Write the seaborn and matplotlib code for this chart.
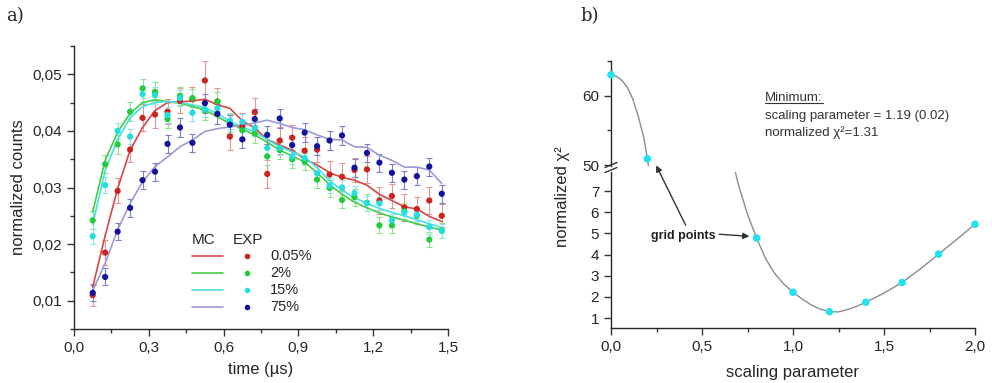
import matplotlib
matplotlib.use("Agg")
import matplotlib.pyplot as plt
import seaborn as sns
from matplotlib.lines import Line2D
from matplotlib.ticker import MultipleLocator, FuncFormatter, FixedLocator
from matplotlib.transforms import IdentityTransform

# ---------------- data: panel a ----------------
time_us = [0.075, 0.125, 0.175, 0.225, 0.275, 0.325, 0.375, 0.425, 0.475, 0.525,
           0.575, 0.625, 0.675, 0.725, 0.775, 0.825, 0.875, 0.925, 0.975, 1.025,
           1.075, 1.125, 1.175, 1.225, 1.275, 1.325, 1.375, 1.425, 1.475]

exp_005 = [0.0110, 0.0185, 0.0294, 0.0367, 0.0423, 0.0429, 0.0434, 0.0453, 0.0456, 0.0489,
           0.0452, 0.0390, 0.0408, 0.0433, 0.0324, 0.0383, 0.0388, 0.0365, 0.0367, 0.0323,
           0.0319, 0.0331, 0.0332, 0.0277, 0.0285, 0.0265, 0.0262, 0.0277, 0.0250]
err_005 = [0.0020, 0.0022, 0.0022, 0.0022, 0.0024, 0.0024, 0.0022, 0.0022, 0.0022, 0.0034,
           0.0024, 0.0024, 0.0024, 0.0026, 0.0024, 0.0024, 0.0022, 0.0024, 0.0022, 0.0024,
           0.0024, 0.0022, 0.0024, 0.0024, 0.0022, 0.0024, 0.0022, 0.0024, 0.0020]
exp_2 = [0.0242, 0.0341, 0.0376, 0.0434, 0.0475, 0.0469, 0.0421, 0.0462, 0.0458, 0.0436,
         0.0452, 0.0414, 0.0401, 0.0395, 0.0355, 0.0366, 0.0350, 0.0346, 0.0314, 0.0299,
         0.0278, 0.0283, 0.0273, 0.0233, 0.0233, 0.0258, 0.0250, 0.0208, 0.0224]
err_2 = [0.0016, 0.0016, 0.0016, 0.0017, 0.0017, 0.0017, 0.0016, 0.0016, 0.0016, 0.0016,
         0.0016, 0.0016, 0.0016, 0.0016, 0.0015, 0.0015, 0.0015, 0.0015, 0.0015, 0.0015,
         0.0015, 0.0015, 0.0015, 0.0014, 0.0014, 0.0014, 0.0014, 0.0014, 0.0014]
exp_15 = [0.0214, 0.0304, 0.0400, 0.0390, 0.0465, 0.0463, 0.0428, 0.0458, 0.0432, 0.0438,
          0.0440, 0.0418, 0.0416, 0.0405, 0.0370, 0.0370, 0.0355, 0.0352, 0.0325, 0.0303,
          0.0300, 0.0290, 0.0272, 0.0272, 0.0242, 0.0256, 0.0252, 0.0230, 0.0223]
err_15 = [0.0013, 0.0014, 0.0014, 0.0014, 0.0015, 0.0015, 0.0014, 0.0014, 0.0014, 0.0014,
          0.0014, 0.0014, 0.0014, 0.0014, 0.0013, 0.0013, 0.0013, 0.0013, 0.0013, 0.0013,
          0.0013, 0.0013, 0.0013, 0.0012, 0.0012, 0.0012, 0.0012, 0.0012, 0.0012]
exp_75 = [0.0114, 0.0142, 0.0222, 0.0264, 0.0313, 0.0328, 0.0377, 0.0406, 0.0379, 0.0449,
          0.0430, 0.0411, 0.0385, 0.0421, 0.0393, 0.0422, 0.0375, 0.0397, 0.0373, 0.0383,
          0.0392, 0.0335, 0.0361, 0.0344, 0.0326, 0.0314, 0.0320, 0.0337, 0.0289]
err_75 = [0.0014, 0.0015, 0.0015, 0.0016, 0.0016, 0.0016, 0.0016, 0.0016, 0.0016, 0.0017,
          0.0017, 0.0017, 0.0016, 0.0017, 0.0016, 0.0017, 0.0016, 0.0017, 0.0016, 0.0016,
          0.0017, 0.0016, 0.0016, 0.0016, 0.0016, 0.0016, 0.0016, 0.0016, 0.0016]

mc_005 = [0.0124, 0.0215, 0.0298, 0.0366, 0.0406, 0.0436, 0.0450, 0.0451, 0.0453, 0.0456,
          0.0446, 0.0440, 0.0418, 0.0405, 0.0385, 0.0375, 0.0366, 0.0350, 0.0340, 0.0326,
          0.0318, 0.0313, 0.0304, 0.0288, 0.0277, 0.0266, 0.0262, 0.0249, 0.0240]
mc_2 = [0.0257, 0.0348, 0.0398, 0.0431, 0.0450, 0.0455, 0.0452, 0.0449, 0.0443, 0.0437,
        0.0425, 0.0413, 0.0403, 0.0393, 0.0380, 0.0366, 0.0356, 0.0345, 0.0326, 0.0305,
        0.0288, 0.0274, 0.0264, 0.0255, 0.0248, 0.0242, 0.0236, 0.0230, 0.0225]
mc_15 = [0.0235, 0.0330, 0.0385, 0.0423, 0.0443, 0.0450, 0.0452, 0.0450, 0.0446, 0.0441,
         0.0430, 0.0417, 0.0407, 0.0398, 0.0385, 0.0372, 0.0363, 0.0354, 0.0335, 0.0312,
         0.0295, 0.0282, 0.0272, 0.0263, 0.0256, 0.0250, 0.0243, 0.0236, 0.0229]
mc_75 = [0.0118, 0.0166, 0.0225, 0.0272, 0.0310, 0.0337, 0.0354, 0.0372, 0.0384, 0.0399,
         0.0404, 0.0407, 0.0410, 0.0414, 0.0419, 0.0413, 0.0406, 0.0402, 0.0393, 0.0385,
         0.0384, 0.0372, 0.0371, 0.0357, 0.0348, 0.0336, 0.0336, 0.0331, 0.0307]

series_labels = ["0.05%", "2%", "15%", "75%"]

# ---------------- data: panel b ----------------
grid_param = [0.0, 0.2, 0.8, 1.0, 1.2, 1.4, 1.6, 1.8, 2.0]
grid_chi2 = [63.0, 50.9, 4.78, 2.22, 1.30, 1.75, 2.68, 4.02, 5.43]

curve_param = [0.0, 0.03, 0.06, 0.09, 0.12, 0.15, 0.18, 0.20, 0.22,
               0.68, 0.70, 0.75, 0.80, 0.85, 0.90, 0.95, 1.00, 1.05, 1.10, 1.15, 1.20,
               1.25, 1.30, 1.35, 1.40, 1.50, 1.60, 1.70, 1.80, 1.90, 2.00]
curve_chi2 = [63.0, 62.8, 62.2, 61.2, 59.5, 57.0, 54.0, 50.9, 47.5,
              8.0, 7.3, 5.9, 4.78, 3.8, 3.1, 2.6, 2.22, 1.9, 1.62, 1.42, 1.30,
              1.29, 1.40, 1.55, 1.75, 2.18, 2.68, 3.32, 4.02, 4.72, 5.43]

# ---------------- style ----------------
sns.set_theme(style="ticks")
plt.rcParams["font.family"] = ["Liberation Sans", "DejaVu Sans"]
plt.rcParams["axes.linewidth"] = 1.0
plt.rcParams["xtick.direction"] = "out"
plt.rcParams["ytick.direction"] = "out"

marker_cols = ["#cc2222", "#22cc3a", "#22dede", "#12129a"]
line_cols = ["#d94545", "#44cc44", "#44e2e2", "#9a9ad8"]
err_cols = ["#e89494", "#8fe08f", "#90e6e6", "#7d7dc8"]

fig = plt.figure(figsize=(9.92, 3.83), dpi=100)
W, H = 992.0, 383.0

def fx(px):
    return px / W

def fy(py):
    return (H - py) / H

# ---------------- panel a ----------------
ax = fig.add_axes([fx(74), fy(329), (448 - 74) / W, (329 - 46) / H])
exps = [exp_005, exp_2, exp_15, exp_75]
errs = [err_005, err_2, err_15, err_75]
mcs = [mc_005, mc_2, mc_15, mc_75]
for i in range(4):
    ax.errorbar(time_us, exps[i], yerr=errs[i], fmt="none", ecolor=err_cols[i],
                elinewidth=0.8, capsize=2.5, capthick=0.8, zorder=2)
for i in range(4):
    sns.lineplot(x=time_us, y=mcs[i], ax=ax, color=line_cols[i], lw=1.2,
                 estimator=None, sort=False, zorder=3)
for i in range(4):
    sns.scatterplot(x=time_us, y=exps[i], ax=ax, color=marker_cols[i], s=20,
                    edgecolor="none", zorder=4)

ax.set_xlim(0, 1.5)
ax.set_ylim(0.005, 0.055)
ax.xaxis.set_major_locator(MultipleLocator(0.3))
ax.xaxis.set_minor_locator(MultipleLocator(0.15))
ax.yaxis.set_major_locator(FixedLocator([0.01, 0.02, 0.03, 0.04, 0.05]))
ax.yaxis.set_minor_locator(MultipleLocator(0.005))
ax.xaxis.set_major_formatter(FuncFormatter(lambda v, p: f"{v:.1f}".replace(".", ",")))
ax.yaxis.set_major_formatter(FuncFormatter(lambda v, p: f"{v:.2f}".replace(".", ",")))
ax.tick_params(which="major", length=5, width=1, labelsize=11, color="#333333")
ax.tick_params(which="minor", length=3, width=1, color="#333333")
sns.despine(ax=ax)
ax.set_xlabel("time (µs)", fontsize=12, labelpad=5)
ax.set_ylabel("normalized counts", fontsize=12, labelpad=5)

# legend (MC lines, EXP dots)
tA = ax.transAxes
ax.text(0.316, 0.314, "MC", transform=tA, fontsize=11, va="center", ha="left")
ax.text(0.425, 0.314, "EXP", transform=tA, fontsize=11, va="center", ha="left")
rows = [0.258, 0.197, 0.138, 0.077]
for i in range(4):
    ax.add_line(Line2D([0.316, 0.398], [rows[i], rows[i]], transform=tA,
                       color=line_cols[i], lw=1.2))
    ax.plot([0.4626], [rows[i]], "o", transform=tA, color=marker_cols[i], ms=4,
            mec="none")
    ax.text(0.524, rows[i], series_labels[i], transform=tA, fontsize=10.5,
            va="center", ha="left")

# ---------------- panel b ----------------
ax_low = fig.add_axes([fx(611), fy(328), (975 - 611) / W, (328 - 172) / H])
ax_up = fig.add_axes([fx(611), fy(166), (975 - 611) / W, (166 - 61) / H])

for a in (ax_low, ax_up):
    sns.lineplot(x=curve_param[:9], y=curve_chi2[:9], ax=a, color="#8c8c8c", lw=1.0,
                 estimator=None, sort=False)
    sns.lineplot(x=curve_param[9:], y=curve_chi2[9:], ax=a, color="#8c8c8c", lw=1.0,
                 estimator=None, sort=False)
    sns.scatterplot(x=grid_param, y=grid_chi2, ax=a, color="#22e2ee", s=30,
                    edgecolor="none", zorder=5, clip_on=False)
    a.set_xlim(0, 2.0)

ax_low.set_ylim(0.53, 7.9)
ax_up.set_ylim(50 - 1 / 7, 65)
# hide out-of-range grid points drawn with clip_on=False
for a, lo, hi in ((ax_low, 0.53, 7.9), (ax_up, 49.8, 65.1)):
    for coll in a.collections:
        offs = coll.get_offsets()
        if len(offs) == len(grid_param):
            keep = [(lo <= y <= hi) for _, y in offs]
            coll.set_offsets(offs[keep])

ax_low.xaxis.set_major_locator(MultipleLocator(0.5))
ax_low.xaxis.set_minor_locator(MultipleLocator(0.25))
ax_low.xaxis.set_major_formatter(FuncFormatter(lambda v, p: f"{v:.1f}".replace(".", ",")))
ax_low.yaxis.set_major_locator(FixedLocator([1, 2, 3, 4, 5, 6, 7]))
ax_low.tick_params(which="major", length=5, width=1, labelsize=11, color="#333333")
ax_low.tick_params(which="minor", length=3, width=1, color="#333333")
sns.despine(ax=ax_low)
ax_low.set_xlabel("scaling parameter", fontsize=12, labelpad=8)
ax_low.set_ylabel("")

ax_up.yaxis.set_major_locator(FixedLocator([50, 60]))
ax_up.yaxis.set_minor_locator(FixedLocator([55, 65]))
ax_up.tick_params(which="major", length=5, width=1, labelsize=11, color="#333333")
ax_up.tick_params(which="minor", length=3, width=1, color="#333333")
ax_up.tick_params(axis="x", which="both", bottom=False, labelbottom=False)
sns.despine(ax=ax_up, bottom=True)
ax_up.set_xlabel("")
ax_up.set_ylabel("")
ax_up.patch.set_alpha(0)
ax_low.patch.set_alpha(0)

# axis break marks
for y0 in (167.5, 172.5):
    fig.add_artist(Line2D([fx(605), fx(617)], [fy(y0), fy(y0 - 5)],
                          transform=fig.transFigure, color="#333333", lw=1.0))

fig.text(fx(563), fy(197), "normalized χ²", rotation=90, ha="center", va="center",
         fontsize=12)

# annotations
ax_low.text(0.396, 4.87, "grid points", ha="center", va="center", fontsize=9,
            fontweight="bold", color="#222222")
arrow_kw = dict(arrowstyle="-|>", color="#333333", lw=1.0, mutation_scale=9,
                shrinkA=0, shrinkB=0)
ax_low.annotate("", xy=(0.76, 4.86), xycoords="data", xytext=(0.595, 4.96),
                textcoords="data", arrowprops=arrow_kw, annotation_clip=False)
ax_low.annotate("", xy=(0.248, 49.95), xycoords=ax_up.transData, xytext=(0.41, 5.39),
                textcoords="data", arrowprops=arrow_kw, annotation_clip=False)

t_min = fig.text(fx(765), fy(98), "Minimum:", fontsize=9.5, va="center", ha="left",
                 color="#333333")
fig.text(fx(765), fy(116), "scaling parameter = 1.19 (0.02)", fontsize=9.5,
         va="center", ha="left", color="#333333")
fig.text(fx(765), fy(133), "normalized χ²=1.31", fontsize=9.5, va="center",
         ha="left", color="#333333")

fig.text(fx(6), fy(16), "a)", fontsize=13, family="DejaVu Serif", va="center")
fig.text(fx(580), fy(16), "b)", fontsize=13, family="DejaVu Serif", va="center")

fig.canvas.draw()
bb = t_min.get_window_extent()
fig.add_artist(Line2D([bb.x0, bb.x1], [bb.y0 + 1, bb.y0 + 1], transform=IdentityTransform(),
                      color="#333333", lw=0.8))

fig.savefig("out.png", dpi=100)
